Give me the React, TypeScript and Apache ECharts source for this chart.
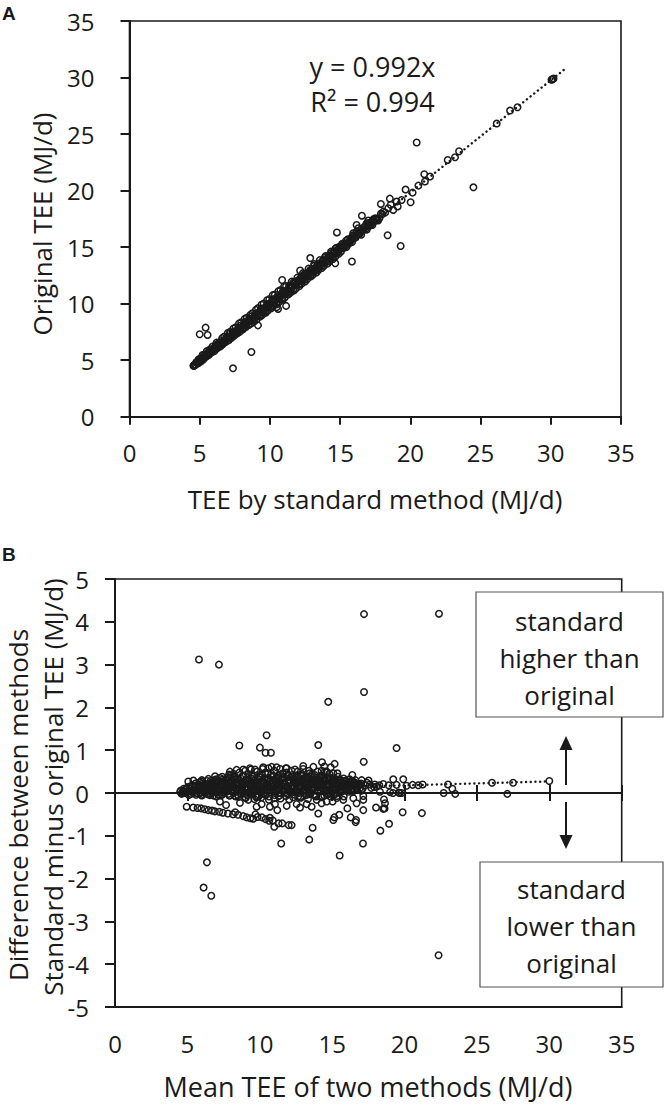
import React, { useEffect, useRef } from "react";
import * as echarts from "echarts";

// ---------- Panel A: TEE by standard method (x) vs original TEE (y) ----------
const aCore: number[][] = [
  [4.55, 4.5], [4.6, 4.55], [4.58, 4.52], [4.7, 4.62], [4.8, 4.85], [4.9, 4.75], [5.0, 4.98], [5.1, 5.0], [5.2, 5.45], [5.3, 5.22],
  [5.4, 5.3], [5.5, 5.8], [5.6, 5.5], [5.7, 5.62], [5.8, 5.75], [5.9, 6.2], [6.0, 5.9], [6.1, 6.05], [6.2, 6.55], [6.3, 6.2],
  [6.4, 6.35], [6.5, 6.42], [6.6, 6.95], [6.7, 6.55], [6.8, 6.75], [6.9, 6.82], [7.0, 7.4], [7.1, 6.98], [7.2, 7.15], [7.3, 7.05],
  [7.4, 7.8], [7.5, 7.4], [7.6, 7.55], [7.7, 7.45], [7.8, 8.25], [7.9, 7.75], [8.0, 7.95], [8.1, 7.85], [8.2, 8.65], [8.3, 8.2],
  [8.4, 8.35], [8.5, 8.1], [8.6, 9.0], [8.7, 8.55], [8.8, 8.75], [8.9, 8.45], [9.0, 9.45], [9.1, 8.95], [9.2, 9.1], [9.3, 8.85],
  [9.4, 9.9], [9.5, 9.35], [9.6, 9.55], [9.7, 9.2], [9.8, 10.3], [9.9, 9.75], [10.0, 9.9], [10.1, 9.6], [10.2, 10.75], [10.3, 10.2],
  [10.4, 10.3], [10.5, 9.95], [10.6, 11.1], [10.7, 10.6], [10.8, 10.7], [10.9, 10.35], [11.0, 11.5], [11.1, 10.95], [11.2, 11.1], [11.3, 10.8],
  [11.4, 11.6], [11.5, 11.35], [11.6, 11.5], [11.7, 11.15], [11.8, 11.85], [11.9, 11.7], [12.0, 11.9], [12.1, 11.55], [12.2, 12.3], [12.3, 12.1],
  [12.4, 12.25], [12.5, 11.95], [12.6, 12.6], [12.7, 12.5], [12.8, 12.65], [12.9, 12.4], [13.0, 13.05], [13.1, 12.9], [13.2, 13.0], [13.3, 12.75],
  [13.4, 13.45], [13.5, 13.3], [13.6, 13.45], [13.7, 13.15], [13.8, 13.85], [13.9, 13.7], [14.0, 13.85], [14.1, 13.55], [14.2, 14.25], [14.3, 14.1],
  [14.4, 14.2], [14.5, 13.95], [14.6, 14.6], [14.7, 14.45], [14.8, 14.75], [14.9, 14.4], [15.0, 14.85], [15.1, 15.05], [15.2, 14.9], [15.3, 15.2],
  [15.4, 15.1], [15.5, 15.35], [15.6, 15.3], [15.7, 15.5], [15.8, 15.6], [15.9, 15.75], [16.0, 15.8], [16.2, 16.05], [16.4, 16.2], [16.6, 16.45],
  [16.8, 16.6], [17.0, 16.85], [17.2, 17.0], [17.4, 17.25], [17.6, 17.5], [17.8, 17.55], [18.0, 17.9], [18.2, 18.05],
];
const aCore2: number[][] = [
  [4.65, 4.55], [4.75, 4.8], [4.85, 4.7], [4.95, 5.05], [5.05, 4.9], [5.15, 5.25], [5.25, 5.05], [5.35, 5.5], [5.45, 5.3], [5.55, 5.6],
  [5.65, 5.45], [5.75, 5.95], [5.85, 5.7], [5.95, 6.0], [6.05, 5.8], [6.15, 6.35], [6.25, 6.05], [6.35, 6.5], [6.45, 6.2], [6.55, 6.7],
  [6.65, 6.4], [6.75, 7.1], [6.85, 6.6], [6.95, 7.0], [7.05, 6.75], [7.15, 7.5], [7.25, 6.95], [7.35, 7.45], [7.45, 7.15], [7.55, 7.9],
  [7.65, 7.35], [7.75, 7.85], [7.85, 7.5], [7.95, 8.35], [8.05, 7.7], [8.15, 8.2], [8.25, 7.9], [8.35, 8.75], [8.45, 8.1], [8.55, 8.6],
  [8.65, 8.25], [8.75, 9.15], [8.85, 8.5], [8.95, 9.0], [9.05, 8.6], [9.15, 9.6], [9.25, 8.95], [9.35, 9.4], [9.45, 9.0], [9.55, 10.0],
  [9.65, 9.3], [9.75, 9.8], [9.85, 9.4], [9.95, 10.4], [10.05, 9.7], [10.15, 10.2], [10.25, 9.8], [10.35, 10.8], [10.45, 10.05], [10.55, 10.6],
  [10.65, 10.15], [10.75, 11.2], [10.85, 10.45], [10.95, 11.0], [11.05, 10.55], [11.15, 11.55], [11.25, 10.85], [11.35, 11.4], [11.45, 10.95], [11.55, 11.95],
  [11.65, 11.25], [11.75, 11.8], [11.85, 11.35], [11.95, 12.3], [12.05, 11.7], [12.15, 12.2], [12.25, 11.75], [12.35, 12.7], [12.45, 12.1], [12.55, 12.55],
  [12.65, 12.15], [12.75, 13.1], [12.85, 12.5], [12.95, 12.95], [13.05, 12.55], [13.15, 13.5], [13.25, 12.9], [13.35, 13.35], [13.45, 12.95], [13.55, 13.85],
  [13.65, 13.3], [13.75, 13.75], [13.85, 13.35], [13.95, 14.2], [14.05, 13.7], [14.15, 14.15], [14.25, 13.75], [14.35, 14.6], [14.45, 14.1], [14.55, 14.5],
  [14.65, 14.15], [14.75, 14.95], [14.85, 14.55], [14.95, 14.9], [15.05, 14.6], [15.15, 15.3], [15.25, 14.95], [15.35, 15.3], [15.45, 15.0], [15.55, 15.7],
  [15.65, 15.35], [15.75, 15.7], [15.85, 15.45], [15.95, 16.05], [16.1, 15.85], [16.3, 16.3], [16.5, 16.1], [16.7, 16.75], [16.9, 16.55], [17.1, 17.15],
  [17.3, 16.95], [17.5, 17.55], [17.7, 17.35], [17.9, 17.95],
];
const aCore3: number[][] = [
  [4.62, 4.52], [4.77, 4.82], [4.92, 5.07], [5.07, 4.87], [5.22, 5.22], [5.37, 5.47], [5.52, 5.47], [5.67, 5.87], [5.82, 5.67], [5.97, 6.05],
  [6.12, 6.02], [6.27, 6.32], [6.42, 6.57], [6.57, 6.37], [6.72, 6.72], [6.87, 6.97], [7.02, 6.97], [7.17, 7.37], [7.32, 7.17], [7.47, 7.55],
  [7.62, 7.52], [7.77, 7.82], [7.92, 8.07], [8.07, 7.87], [8.22, 8.22], [8.37, 8.47], [8.52, 8.47], [8.67, 8.87], [8.82, 8.67], [8.97, 9.05],
  [9.12, 9.02], [9.27, 9.32], [9.42, 9.57], [9.57, 9.37], [9.72, 9.72], [9.87, 9.97], [10.02, 9.97], [10.17, 10.37], [10.32, 10.17], [10.47, 10.55],
  [10.62, 10.52], [10.77, 10.82], [10.92, 11.07], [11.07, 10.87], [11.22, 11.22], [11.37, 11.47], [11.52, 11.47], [11.67, 11.87], [11.82, 11.67], [11.97, 12.05],
  [12.12, 12.02], [12.27, 12.32], [12.42, 12.57], [12.57, 12.37], [12.72, 12.72], [12.87, 12.97], [13.02, 12.97], [13.17, 13.37], [13.32, 13.17], [13.47, 13.55],
  [13.62, 13.52], [13.77, 13.82], [13.92, 14.07], [14.07, 13.87], [14.22, 14.22], [14.37, 14.47], [14.52, 14.47], [14.67, 14.87], [14.82, 14.67], [14.97, 15.05],
  [15.12, 15.02], [15.27, 15.32], [15.42, 15.57], [15.57, 15.37], [15.72, 15.72], [15.87, 15.97], [16.02, 15.97], [16.17, 16.37], [16.32, 16.17], [16.47, 16.55],
  [16.62, 16.52], [16.77, 16.82], [16.92, 17.07], [17.07, 16.87], [17.22, 17.22], [17.37, 17.47], [17.52, 17.47],
];
const aScattered: number[][] = [
  [10.49, 9.69], [11.15, 9.8], [11.44, 11.07], [12.15, 12.93], [12.87, 14.03], [14.65, 13.57], [14.77, 16.3], [15.84, 13.73],
  [16.55, 17.78], [17.9, 18.82], [18.38, 16.05], [18.54, 19.29], [19.31, 15.1], [19.66, 20.09], [20.02, 18.97], [20.45, 24.25],
  [20.99, 21.45], [21.4, 21.24], [22.66, 22.71], [23.18, 22.95], [23.47, 23.48], [24.49, 20.29], [26.15, 25.93], [27.1, 27.08],
  [27.63, 27.37], [30.12, 29.85], [30.05, 29.8], [30.2, 29.92], [5.0, 7.29], [5.42, 7.88], [5.56, 7.23], [7.37, 4.28],
  [8.68, 5.72], [9.15, 8.08], [10.58, 9.53], [10.87, 12.09], [17.36, 17.4], [17.64, 17.43], [18.07, 18.14], [18.43, 18.44],
  [19.02, 19.03], [19.38, 19.17], [20.16, 19.82], [20.57, 20.44], [21.04, 20.8], [16.88, 17.1], [16.29, 16.67], [16.64, 16.52],
  [15.93, 16.22], [16.17, 16.96], [17.0, 17.35], [18.78, 18.29], [18.6, 18.75], [19.1, 18.6],
];
const aTrend: number[][] = [[4.5, 4.46], [31, 30.75]];

// ---------- Panel B: mean of methods (x) vs standard minus original (y) ----------
const bOuter: number[][] = [
  [5.8, 3.12], [7.18, 3.0], [17.2, 4.18], [22.38, 4.19], [17.2, 2.36], [14.73, 2.13], [10.47, 1.35], [8.59, 1.11],
  [10.01, 1.06], [10.4, 0.94], [10.77, 0.94], [14.04, 1.12], [19.45, 1.05], [17.18, 0.73], [14.3, 0.72], [14.46, 0.62],
  [14.9, 0.6], [15.17, 0.68], [15.36, 0.46], [16.39, 0.42], [17.04, 0.3], [17.52, 0.29],
  [6.35, -1.62], [6.12, -2.21], [6.65, -2.4], [22.35, -3.79], [11.48, -1.18], [13.42, -1.09], [15.52, -1.46], [17.13, -1.18],
  [18.33, -0.88], [18.93, -0.72], [19.87, -0.45], [21.2, -0.47],
  [11.0, -0.79], [11.3, -0.71], [11.55, -0.71], [12.0, -0.75], [12.2, -0.75], [13.65, -0.81], [14.04, -0.48], [15.08, -0.63],
  [15.15, -0.57], [15.49, -0.51], [16.05, -0.36], [16.28, -0.57], [16.62, -0.68], [16.65, -0.63], [17.15, -0.4], [17.15, -0.07],
  [18.03, -0.34], [18.53, -0.37], [18.58, -0.15], [18.65, -0.24], [18.62, -0.36], [19.2, 0.0], [19.66, 0.0], [19.8, 0.0],
  [18.07, 0.15], [18.53, 0.21], [19.22, 0.32], [19.91, 0.32], [18.26, 0.18], [18.9, 0.18], [19.45, 0.19], [20.14, 0.17],
  [20.56, 0.19], [20.95, 0.18], [21.25, 0.2], [18.3, 0.03], [19.0, 0.02], [19.6, 0.01],
  [22.7, 0.0], [23.0, 0.2], [23.3, 0.1], [23.5, -0.02], [26.04, 0.24], [27.1, -0.02], [27.5, 0.24], [30.0, 0.28],
];
const bLowerBand: number[][] = [
  [4.95, -0.32], [5.4, -0.34], [5.7, -0.35], [5.95, -0.36], [6.2, -0.38], [6.45, -0.4], [6.7, -0.41], [6.9, -0.43],
  [7.2, -0.44], [7.45, -0.46], [7.8, -0.48], [8.15, -0.5], [8.5, -0.51], [8.85, -0.54], [9.1, -0.57], [9.35, -0.59],
  [9.55, -0.6], [9.85, -0.56], [10.15, -0.57], [10.4, -0.61], [10.65, -0.65], [10.9, -0.64], [10.7, -0.58], [9.7, -0.5], [8.3, -0.45],
];
const bBelowZero: number[][] = [
  [7.25, -0.2], [7.67, -0.28], [8.63, -0.23], [9.21, -0.16], [9.78, -0.32], [10.13, -0.26], [10.7, -0.32], [11.05, -0.26],
  [11.21, -0.4], [11.86, -0.3], [12.55, -0.26], [12.78, -0.34], [13.24, -0.26], [13.58, -0.32], [13.93, -0.16], [14.27, -0.24],
  [14.62, -0.2], [15.03, -0.2], [15.31, -0.12], [15.77, -0.16], [16.46, -0.12], [16.69, -0.24], [17.15, -0.16],
];
const bCore: number[][] = [
  [4.5, 0.03], [4.6, -0.02], [4.7, 0.05], [4.8, 0.0], [4.9, 0.08], [5.0, 0.02], [5.1, -0.05], [5.2, 0.1], [5.3, 0.04], [5.4, 0.0],
  [5.5, 0.12], [5.6, -0.04], [5.7, 0.06], [5.8, 0.15], [5.9, 0.02], [6.0, -0.06], [6.1, 0.09], [6.2, 0.03], [6.3, 0.18], [6.4, -0.03],
  [6.5, 0.07], [6.6, 0.13], [6.7, 0.0], [6.8, 0.2], [6.9, 0.05], [7.0, -0.08], [7.1, 0.11], [7.2, 0.02], [7.3, 0.16], [7.4, -0.04],
  [7.5, 0.08], [7.6, 0.22], [7.7, 0.03], [7.8, 0.12], [7.9, -0.06], [8.0, 0.06], [8.1, 0.18], [8.2, 0.0], [8.3, 0.1], [8.4, 0.25],
  [8.5, -0.05], [8.6, 0.07], [8.7, 0.14], [8.8, 0.02], [8.9, 0.2], [9.0, -0.1], [9.1, 0.09], [9.2, 0.3], [9.3, 0.04], [9.4, 0.15],
  [9.5, -0.03], [9.6, 0.22], [9.7, 0.06], [9.8, 0.12], [9.9, -0.08], [10.0, 0.18], [10.1, 0.03], [10.2, 0.28], [10.3, 0.09], [10.4, -0.05],
  [10.5, 0.14], [10.6, 0.35], [10.7, 0.02], [10.8, 0.2], [10.9, 0.07], [11.0, -0.12], [11.1, 0.25], [11.2, 0.1], [11.3, 0.4], [11.4, 0.0],
  [11.5, 0.16], [11.6, 0.05], [11.7, 0.3], [11.8, -0.07], [11.9, 0.12], [12.0, 0.22], [12.1, 0.04], [12.2, 0.38], [12.3, -0.1], [12.4, 0.15],
  [12.5, 0.08], [12.6, 0.28], [12.7, 0.0], [12.8, 0.18], [12.9, 0.45], [13.0, 0.06], [13.1, 0.24], [13.2, -0.05], [13.3, 0.12], [13.4, 0.35],
  [13.5, 0.03], [13.6, 0.2], [13.7, 0.1], [13.8, 0.42], [13.9, -0.08], [14.0, 0.15], [14.1, 0.3], [14.2, 0.05], [14.3, 0.22], [14.4, 0.1],
  [14.5, 0.5], [14.6, 0.0], [14.7, 0.18], [14.8, 0.08], [14.9, 0.35], [15.0, 0.14], [15.1, -0.04], [15.2, 0.25], [15.3, 0.1], [15.4, 0.2],
  [15.5, 0.05], [15.6, 0.3], [15.7, 0.15], [15.8, 0.22], [15.9, 0.08], [16.0, 0.18], [16.2, 0.25], [16.4, 0.12], [16.6, 0.2], [16.8, 0.16],
  [17.0, 0.22], [17.3, 0.18], [17.6, 0.2], [17.9, 0.14],
];
const bCore2: number[][] = [
  [4.55, 0.06], [4.65, 0.0], [4.75, 0.1], [4.85, 0.03], [4.95, 0.12], [5.05, 0.05], [5.15, 0.15], [5.25, -0.02], [5.35, 0.18], [5.45, 0.06],
  [5.55, 0.22], [5.65, 0.0], [5.75, 0.1], [5.85, 0.25], [5.95, -0.04], [6.05, 0.14], [6.15, 0.2], [6.25, 0.05], [6.35, 0.28], [6.45, 0.1],
  [6.55, -0.05], [6.65, 0.24], [6.75, 0.12], [6.85, 0.3], [6.95, 0.02], [7.05, 0.18], [7.15, 0.26], [7.25, -0.06], [7.35, 0.22], [7.45, 0.32],
  [7.55, 0.06], [7.65, 0.15], [7.75, 0.35], [7.85, -0.02], [7.95, 0.24], [8.05, 0.3], [8.15, 0.08], [8.25, 0.38], [8.35, -0.08], [8.45, 0.2],
  [8.55, 0.32], [8.65, 0.0], [8.75, 0.26], [8.85, 0.4], [8.95, 0.1], [9.05, 0.28], [9.15, -0.05], [9.25, 0.36], [9.35, 0.16], [9.45, 0.42],
  [9.55, 0.05], [9.65, 0.3], [9.75, -0.1], [9.85, 0.24], [9.95, 0.38], [10.05, 0.12], [10.15, 0.44], [10.25, -0.02], [10.35, 0.32], [10.45, 0.2],
  [10.55, 0.46], [10.65, -0.08], [10.75, 0.3], [10.85, 0.14], [10.95, 0.4], [11.05, 0.0], [11.15, 0.34], [11.25, 0.22], [11.35, -0.06], [11.45, 0.44],
  [11.55, 0.1], [11.65, 0.38], [11.75, 0.2], [11.85, 0.48], [11.95, -0.03], [12.05, 0.3], [12.15, 0.14], [12.25, 0.42], [12.35, 0.02], [12.45, 0.26],
  [12.55, 0.36], [12.65, -0.08], [12.75, 0.3], [12.85, 0.12], [12.95, 0.4], [13.05, 0.2], [13.15, -0.02], [13.25, 0.34], [13.35, 0.24], [13.45, 0.46],
  [13.55, 0.08], [13.65, 0.3], [13.75, -0.05], [13.85, 0.22], [13.95, 0.36], [14.05, 0.02], [14.15, 0.26], [14.25, 0.12], [14.35, 0.4], [14.45, -0.06],
  [14.55, 0.28], [14.65, 0.16], [14.75, 0.34], [14.85, 0.0], [14.95, 0.24], [15.05, 0.1], [15.15, 0.3], [15.25, -0.02], [15.35, 0.2], [15.45, 0.28],
  [15.55, 0.12], [15.65, 0.22], [15.75, 0.05], [15.85, 0.28], [15.95, 0.15], [16.1, 0.22], [16.3, 0.08], [16.5, 0.26], [16.7, 0.12], [16.9, 0.2],
  [17.1, 0.1], [17.4, 0.24], [17.7, 0.12], [17.95, 0.2],
];
const bCore3: number[][] = [
  [5.6, 0.08], [5.75, 0.18], [5.9, 0.0], [6.05, 0.22], [6.2, 0.1], [6.35, 0.2], [6.5, 0.03], [6.65, 0.15], [6.8, -0.06], [6.95, 0.26],
  [7.1, 0.07], [7.25, 0.19], [7.4, -0.03], [7.55, 0.28], [7.7, 0.13], [7.85, 0.24], [8.0, 0.05], [8.15, 0.17], [8.3, -0.07], [8.45, 0.33],
  [8.6, 0.09], [8.75, 0.21], [8.9, -0.01], [9.05, 0.31], [9.2, 0.11], [9.35, 0.26], [9.5, 0.03], [9.65, 0.15], [9.8, -0.09], [9.95, 0.32],
  [10.1, 0.07], [10.25, 0.21], [10.4, -0.03], [10.55, 0.29], [10.7, 0.13], [10.85, 0.24], [11.0, 0.05], [11.15, 0.17], [11.3, -0.07], [11.45, 0.33],
  [11.6, 0.09], [11.75, 0.19], [11.9, -0.01], [12.05, 0.31], [12.2, 0.11], [12.35, 0.26], [12.5, 0.03], [12.65, 0.15], [12.8, -0.09], [12.95, 0.32],
  [13.1, 0.07], [13.25, 0.21], [13.4, -0.03], [13.55, 0.29], [13.7, 0.13], [13.85, 0.24], [14.0, 0.05], [14.15, 0.17], [14.3, -0.07], [14.45, 0.33],
  [14.6, 0.09], [14.75, 0.19], [14.9, -0.01], [15.05, 0.28], [15.2, 0.11], [15.35, 0.24], [15.5, 0.03], [15.65, 0.15], [15.8, -0.08], [15.95, 0.29],
  [16.1, 0.1], [16.25, 0.18], [16.4, 0.02], [16.55, 0.24], [16.7, 0.08], [16.85, 0.2], [17.0, 0.05],
];
const bCore4: number[][] = [
  [6.03, 0.12], [6.13, 0.02], [6.23, 0.17], [6.33, 0.08], [6.43, 0.21], [6.53, -0.02], [6.63, 0.1], [6.73, 0.19], [6.83, 0.04], [6.93, 0.14],
  [7.03, 0.23], [7.13, -0.04], [7.23, 0.09], [7.33, 0.27], [7.43, 0.13], [7.53, 0.01], [7.63, 0.2], [7.73, 0.07], [7.83, 0.29], [7.93, -0.06],
  [8.03, 0.15], [8.13, 0.24], [8.23, 0.04], [8.33, 0.32], [8.43, 0.1], [8.53, -0.09], [8.63, 0.19], [8.73, 0.33], [8.83, 0.06], [8.93, 0.25],
  [9.03, -0.12], [9.13, 0.14], [9.23, 0.22], [9.33, 0.0], [9.43, 0.34], [9.53, 0.11], [9.63, -0.14], [9.73, 0.26], [9.83, 0.18], [9.93, 0.05],
  [10.03, 0.37], [10.13, -0.1], [10.23, 0.15], [10.33, 0.24], [10.43, 0.02], [10.53, 0.31], [10.63, -0.16], [10.73, 0.12], [10.83, 0.38], [10.93, 0.21],
  [11.03, -0.05], [11.13, 0.29], [11.23, 0.06], [11.33, 0.18], [11.43, -0.13], [11.53, 0.36], [11.63, 0.23], [11.73, 0.01], [11.83, 0.14], [11.93, 0.41],
  [12.03, -0.15], [12.13, 0.26], [12.23, 0.09], [12.33, 0.33], [12.43, -0.04], [12.53, 0.19], [12.63, 0.4], [12.73, 0.12], [12.83, -0.11], [12.93, 0.24],
  [13.03, 0.34], [13.13, 0.03], [13.23, 0.17], [13.33, -0.14], [13.43, 0.28], [13.53, 0.39], [13.63, 0.07], [13.73, 0.22], [13.83, -0.06], [13.93, 0.31],
  [14.03, 0.13], [14.13, 0.37], [14.23, -0.1], [14.33, 0.2], [14.43, 0.27], [14.53, 0.04], [14.63, 0.33], [14.73, -0.03], [14.83, 0.16], [14.93, 0.25],
  [15.03, 0.07], [15.13, 0.35], [15.23, 0.11], [15.33, -0.07], [15.43, 0.23], [15.53, 0.3], [15.63, 0.02], [15.73, 0.18], [15.83, 0.26], [15.93, 0.09],
  [16.03, 0.2], [16.13, 0.03], [16.23, 0.15], [16.33, 0.28], [16.43, 0.06], [16.53, 0.17], [16.63, 0.22], [16.73, 0.1], [16.83, 0.19], [16.93, 0.12],
];
const bUpperCloud: number[][] = [
  [6.0, 0.3], [6.6, 0.28], [7.0, 0.32], [7.4, 0.38], [7.7, 0.3], [8.0, 0.42], [8.3, 0.36], [8.6, 0.48], [8.8, 0.4], [9.0, 0.52],
  [9.2, 0.44], [9.4, 0.55], [9.5, 0.38], [9.8, 0.5], [10.0, 0.42], [10.2, 0.56], [10.4, 0.48], [10.6, 0.58], [10.8, 0.45], [11.0, 0.52],
  [11.2, 0.36], [11.4, 0.56], [11.6, 0.46], [11.8, 0.58], [12.0, 0.4], [12.2, 0.52], [12.4, 0.32], [12.6, 0.5], [12.8, 0.42], [13.0, 0.56],
  [13.2, 0.38], [13.4, 0.52], [13.6, 0.44], [13.8, 0.3], [14.0, 0.5], [14.2, 0.4], [14.4, 0.36], [14.8, 0.45], [15.0, 0.3], [15.4, 0.38],
  [15.8, 0.34], [16.2, 0.32], [16.6, 0.3],
  [7.94, 0.5], [8.4, 0.54], [8.86, 0.55], [9.32, 0.58], [9.67, 0.55], [10.24, 0.6], [10.82, 0.61], [11.17, 0.6], [11.86, 0.58],
  [12.43, 0.55], [13.0, 0.63], [13.7, 0.61], [14.27, 0.52], [14.62, 0.5], [15.08, 0.46],
  [5.06, 0.27], [5.41, 0.29], [5.98, 0.27], [6.45, 0.33], [6.91, 0.39], [7.25, 0.35], [7.87, 0.43], [8.17, 0.45],
];
const bTrend: number[][] = [[4.7, 0.04], [30, 0.27]];

const INK = "#1a1a1a";
const FONT = "'Open Sans', sans-serif";

function pointSeries(data: number[][], xi: number, yi: number) {
  return {
    type: "scatter",
    xAxisIndex: xi,
    yAxisIndex: yi,
    data,
    symbol: "circle",
    symbolSize: 6.5,
    itemStyle: { color: "rgba(255,255,255,0)", borderColor: INK, borderWidth: 1.5, opacity: 1 },
    z: 3,
  };
}

function trendSeries(data: number[][], xi: number, yi: number) {
  return {
    type: "line",
    xAxisIndex: xi,
    yAxisIndex: yi,
    data,
    showSymbol: false,
    symbol: "none",
    lineStyle: { color: INK, width: 2.4, type: [0.1, 4.6], cap: "round" },
    z: 2,
  };
}

const tickLabel = { fontFamily: FONT, fontSize: 24, color: INK };
const axLine = { show: true, lineStyle: { color: INK, width: 2 } };

export default function App() {
  const ref = useRef<HTMLDivElement>(null);
  useEffect(() => {
    document.body.style.margin = "0";
    const chart = echarts.init(ref.current!, undefined, { renderer: "svg" });
    const option: any = {
      animation: false,
      backgroundColor: "#ffffff",
      grid: [
        { left: 129.5, top: 21, width: 491.5, height: 395.7, show: true, borderColor: INK, borderWidth: 1.6, backgroundColor: "transparent" },
        { left: 115, top: 579, width: 506.7, height: 428, show: true, borderColor: INK, borderWidth: 1.6, backgroundColor: "transparent" },
      ],
      xAxis: [
        {
          gridIndex: 0, type: "value", min: 0, max: 35, interval: 5,
          axisLine: { ...axLine, onZero: false },
          axisTick: { show: true, length: 8, lineStyle: { color: INK, width: 2 } },
          axisLabel: { ...tickLabel, margin: 24 },
          splitLine: { show: false },
        },
        {
          gridIndex: 1, type: "value", min: 0, max: 35, interval: 5, position: "bottom",
          axisLine: { ...axLine, onZero: false },
          axisTick: { show: false },
          axisLabel: { ...tickLabel, margin: 24 },
          splitLine: { show: false },
        },
        {
          gridIndex: 1, type: "value", min: 0, max: 35, interval: 5, position: "bottom",
          axisLine: { show: true, onZero: true, onZeroAxisIndex: 1, lineStyle: { color: INK, width: 2 } },
          axisTick: { show: true, length: 8, lineStyle: { color: INK, width: 2 } },
          axisLabel: { show: false },
          splitLine: { show: false },
        },
        {
          gridIndex: 1, type: "value", min: 0, max: 35, interval: 5, position: "top",
          axisLine: { show: true, onZero: true, onZeroAxisIndex: 1, lineStyle: { color: INK, width: 2 } },
          axisTick: { show: true, length: 8, lineStyle: { color: INK, width: 2 } },
          axisLabel: { show: false },
          splitLine: { show: false },
        },
      ],
      yAxis: [
        {
          gridIndex: 0, type: "value", min: 0, max: 35, interval: 5,
          axisLine: { ...axLine, onZero: false },
          axisTick: { show: true, length: 9, lineStyle: { color: INK, width: 2 } },
          axisLabel: { ...tickLabel, margin: 35 },
          splitLine: { show: false },
        },
        {
          gridIndex: 1, type: "value", min: -5, max: 5, interval: 1,
          axisLine: { ...axLine, onZero: false },
          axisTick: { show: true, length: 10, lineStyle: { color: INK, width: 2 } },
          axisLabel: { ...tickLabel, margin: 26 },
          splitLine: { show: false },
        },
      ],
      series: [
        trendSeries(aTrend, 0, 0),
        pointSeries(aCore.concat(aCore2, aCore3, aScattered), 0, 0),
        trendSeries(bTrend, 1, 1),
        pointSeries(bCore.concat(bCore2, bCore3, bCore4, bUpperCloud, bBelowZero, bLowerBand, bOuter), 1, 1),
      ],
      graphic: [
        { type: "text", z: 100, style: { text: "A", x: 2, y: 13, verticalAlign: "middle", fontFamily: "'Liberation Sans', Arial, sans-serif", fontWeight: "bold", fontSize: 19, fill: INK } },
        { type: "text", z: 100, style: { text: "B", x: 2, y: 554, verticalAlign: "middle", fontFamily: "'Liberation Sans', Arial, sans-serif", fontWeight: "bold", fontSize: 19, fill: INK } },
        { type: "text", z: 100, style: { text: "y = 0.992x\nR² = 0.994", x: 372.5, y: 84, align: "center", verticalAlign: "middle", lineHeight: 35, fontFamily: FONT, fontSize: 27, fill: INK } },
        { type: "text", z: 100, style: { text: "TEE by standard method (MJ/d)", x: 375, y: 499, align: "center", verticalAlign: "middle", fontFamily: FONT, fontSize: 26, fill: INK } },
        { type: "text", z: 100, rotation: Math.PI / 2, x: 42, y: 224, style: { text: "Original TEE (MJ/d)", x: 0, y: 0, align: "center", verticalAlign: "middle", fontFamily: FONT, fontSize: 26, fill: INK } },
        { type: "text", z: 100, style: { text: "Mean TEE of two methods (MJ/d)", x: 368, y: 1086, align: "center", verticalAlign: "middle", fontFamily: FONT, fontSize: 27, fill: INK } },
        { type: "text", z: 100, rotation: Math.PI / 2, x: 18, y: 805, style: { text: "Difference between methods", x: 0, y: 0, align: "center", verticalAlign: "middle", fontFamily: FONT, fontSize: 26, fill: INK } },
        { type: "text", z: 100, rotation: Math.PI / 2, x: 53, y: 787, style: { text: "Standard minus original TEE (MJ/d)", x: 0, y: 0, align: "center", verticalAlign: "middle", fontFamily: FONT, fontSize: 26, fill: INK } },
        { type: "rect", z: 100, shape: { x: 476, y: 592, width: 187, height: 125 }, style: { fill: "#ffffff", stroke: "#555555", lineWidth: 1.2 } },
        { type: "text", z: 101, style: { text: "standard\nhigher than\noriginal", x: 569.5, y: 658, align: "center", verticalAlign: "middle", lineHeight: 37, fontFamily: FONT, fontSize: 26, fill: INK } },
        { type: "rect", z: 100, shape: { x: 480, y: 862, width: 183, height: 125 }, style: { fill: "#ffffff", stroke: "#555555", lineWidth: 1.2 } },
        { type: "text", z: 101, style: { text: "standard\nlower than\noriginal", x: 571.5, y: 926, align: "center", verticalAlign: "middle", lineHeight: 37, fontFamily: FONT, fontSize: 26, fill: INK } },
        { type: "line", z: 100, shape: { x1: 566, y1: 785, x2: 566, y2: 748 }, style: { stroke: INK, lineWidth: 2 } },
        { type: "polygon", z: 100, shape: { points: [[566, 736], [559.5, 750], [572.5, 750]] }, style: { fill: INK } },
        { type: "line", z: 100, shape: { x1: 566, y1: 802, x2: 566, y2: 837 }, style: { stroke: INK, lineWidth: 2 } },
        { type: "polygon", z: 100, shape: { points: [[566, 849], [559.5, 835], [572.5, 835]] }, style: { fill: INK } },
      ],
    };
    chart.setOption(option);
    return () => chart.dispose();
  }, []);
  return <div ref={ref} style={{ width: 664, height: 1104 }} />;
}
